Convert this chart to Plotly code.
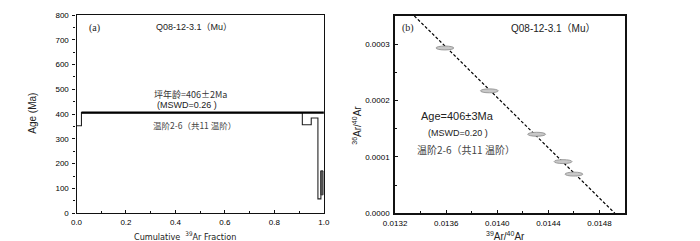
import plotly.graph_objects as go

# ---------------- Panel (a): age spectrum ----------------
step_frac = [0.0, 0.02, 0.913, 0.949, 0.976, 0.988, 0.997]   # cumulative 39Ar fraction (step edges)
step_age = [353, 406, 357, 384, 58, 170, 170]                # step ages (Ma), hv outline
plateau_frac = [0.02, 1.0]
plateau_age = [406, 406]
last_box_frac = [0.988, 0.997]
last_box_age = [74, 170]

# ---------------- Panel (b): inverse isochron ----------------
iso_x = [0.01359, 0.013938, 0.014308, 0.014515, 0.014600]   # 39Ar/40Ar
iso_y = [0.000293, 0.000217, 0.000140, 0.0000915, 0.0000693]  # 36Ar/40Ar
err_x = [0.000070, 0.000070, 0.000070, 0.000070, 0.000070]
err_y = [0.0000035, 0.0000035, 0.0000035, 0.0000035, 0.0000035]
fit_x = [0.01335, 0.01492]
fit_y = [0.00035, 0.0]

xa_ticks = [0.0, 0.2, 0.4, 0.6, 0.8, 1.0]
ya_ticks = [0, 100, 200, 300, 400, 500, 600, 700, 800]
xb_ticks = [0.0132, 0.0136, 0.0140, 0.0144, 0.0148]
yb_ticks = [0.0, 0.0001, 0.0002, 0.0003]

W, H = 700, 241
def px(x): return x / W
def py(y): return 1 - y / H

fig = go.Figure()

# step outline
fig.add_trace(go.Scatter(x=step_frac, y=step_age, mode="lines", line_shape="hv",
                         line=dict(color="#222", width=1.1), xaxis="x", yaxis="y",
                         showlegend=False, hoverinfo="skip"))
# plateau thick line
fig.add_trace(go.Scatter(x=plateau_frac, y=plateau_age, mode="lines",
                         line=dict(color="#000", width=2.2), xaxis="x", yaxis="y",
                         showlegend=False, hoverinfo="skip"))
# last step error box
bx = [last_box_frac[0], last_box_frac[1], last_box_frac[1], last_box_frac[0], last_box_frac[0]]
by = [last_box_age[0], last_box_age[0], last_box_age[1], last_box_age[1], last_box_age[0]]
fig.add_trace(go.Scatter(x=bx, y=by, mode="lines", fill="toself", fillcolor="#666",
                         line=dict(color="#222", width=0.8), xaxis="x", yaxis="y",
                         showlegend=False, hoverinfo="skip"))

# isochron fit line
fig.add_trace(go.Scatter(x=fit_x, y=fit_y, mode="lines",
                         line=dict(color="#000", width=1.2, dash="3px,2px"),
                         xaxis="x2", yaxis="y2", showlegend=False, hoverinfo="skip"))

shapes = []
for cx, cy, ex, ey in zip(iso_x, iso_y, err_x, err_y):
    shapes.append(dict(type="circle", xref="x2", yref="y2",
                       x0=cx - ex, x1=cx + ex, y0=cy - ey, y1=cy + ey,
                       fillcolor="#c8c8c8", line=dict(color="#8a8a8a", width=0.8)))

tickfont = dict(family="Liberation Sans, Arial", size=8, color="#000")
ax_common = dict(showline=True, mirror=True, linecolor="#111", showgrid=False,
                 zeroline=False, tickfont=tickfont, tickcolor="#111", ticklen=3,
                 ticklabeloverflow="allow")

fig.update_layout(
    width=W, height=H, margin=dict(l=0, r=0, t=0, b=0),
    paper_bgcolor="white", plot_bgcolor="white",
    xaxis=dict(domain=[px(58), px(312)], range=[0, 1.0005], anchor="y",
               tickvals=xa_ticks, ticktext=[f"{v:.1f}" for v in xa_ticks],
               ticks="inside", minor=dict(dtick=0.1, ticks="inside", ticklen=2, tickcolor="#111"),
               ticklabelstandoff=1, linewidth=1.2, **ax_common),
    yaxis=dict(domain=[py(209), py(3)], range=[0, 800.5], anchor="x",
               tickvals=ya_ticks, ticktext=[str(v) for v in ya_ticks], ticks="outside",
               minor=dict(dtick=50, ticks="outside", ticklen=2, tickcolor="#111"),
               ticklabelstandoff=2, linewidth=1.2, **ax_common),
    xaxis2=dict(domain=[px(385), px(621)], range=[0.0132, 0.0150], anchor="y2",
                tickvals=xb_ticks, ticktext=[f"{v:.4f}" for v in xb_ticks],
                ticks="inside", minor=dict(dtick=0.0002, tick0=0.0132, ticks="inside", ticklen=2, tickcolor="#111"),
                ticklabelstandoff=1, linewidth=1.8, **ax_common),
    yaxis2=dict(domain=[py(209), py(4)], range=[0, 0.00035], anchor="x2",
                tickvals=yb_ticks, ticktext=[f"{v:.4f}" for v in yb_ticks],
                ticks="inside", minor=dict(dtick=0.00005, ticks="inside", ticklen=2, tickcolor="#111"),
                ticklabelstandoff=2, linewidth=1.8, **ax_common),
    shapes=shapes,
)

sans = "Liberation Sans, Arial"
narrow = "Liberation Sans Narrow, DejaVu Sans Condensed, Liberation Sans"
cjk = "Noto Sans CJK SC"
serif = "Liberation Serif, DejaVu Serif"
ann = [
    dict(x=px(76), y=py(17), text="(a)", font=dict(family=serif, size=10, color="#222")),
    dict(x=px(179), y=py(16), text="Q08-12-3.1（Mu）", font=dict(family=sans + ", " + cjk, size=9, color="#222")),
    dict(x=px(175), y=py(86), text="坪年龄=406±2Ma", font=dict(family=cjk, size=9, color="#333")),
    dict(x=px(171), y=py(97), text="(MSWD=0.26 )", font=dict(family=sans, size=9, color="#222")),
    dict(x=px(179), y=py(117), text="温阶2-6（共11 温阶）", font=dict(family=cjk, size=8.5, color="#444")),
    dict(x=px(12), y=py(105), text="Age (Ma)", textangle=-90, font=dict(family=sans, size=10, color="#222")),
    dict(x=px(169), y=py(233), text="Cumulative  <sup>39</sup>Ar Fraction", font=dict(family=narrow, size=9, color="#222")),
    dict(x=px(398), y=py(17), text="(b)", font=dict(family=serif, size=10, color="#222")),
    dict(x=px(547), y=py(17), text="Q08-12-3.1（Mu）", font=dict(family=sans + ", " + cjk, size=10, color="#222")),
    dict(x=px(449), y=py(108), text="Age=406±3Ma", font=dict(family=sans, size=11, color="#222")),
    dict(x=px(450), y=py(126), text="(MSWD=0.20 )", font=dict(family=sans, size=9, color="#222")),
    dict(x=px(458), y=py(143), text="温阶2-6（共11 温阶）", font=dict(family=cjk, size=10, color="#444")),
    dict(x=px(345), y=py(118), text="<sup>36</sup>Ar/<sup>40</sup>Ar", textangle=-90, font=dict(family=sans, size=10, color="#222")),
    dict(x=px(498), y=py(233), text="<sup>39</sup>Ar/<sup>40</sup>Ar", font=dict(family=sans, size=10, color="#222")),
]
for a in ann:
    a.update(xref="paper", yref="paper", showarrow=False, xanchor="center", yanchor="middle")
fig.update_layout(annotations=ann)

fig.write_html("out.html")
